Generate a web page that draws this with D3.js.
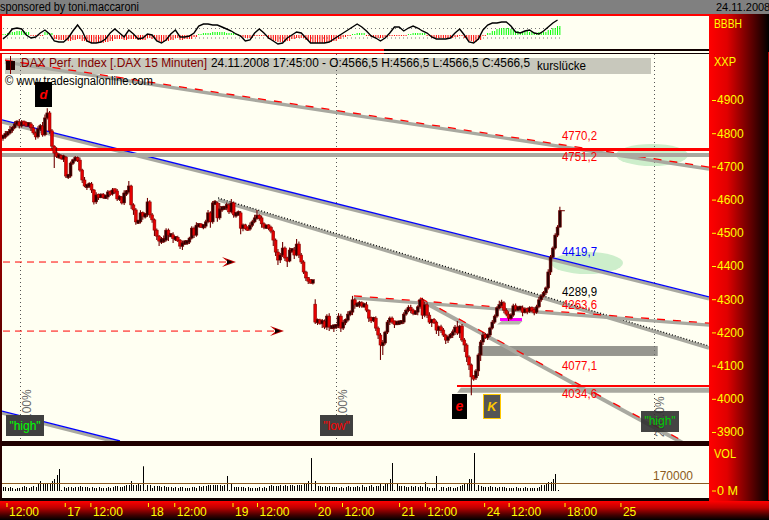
<!DOCTYPE html>
<html><head><meta charset="utf-8">
<script src="https://cdn.jsdelivr.net/npm/d3@7"></script>
<style>html,body{margin:0;padding:0;background:#808080;overflow:hidden}svg{display:block}text{font-family:"Liberation Sans",Arial,sans-serif;font-size:12px}</style>
</head><body><svg id="c" width="769" height="520"></svg>
<script>
const closes=[4789,4798,4801,4810,4816,4828,4834,4822,4834,4828,4825,4828,4816,4801,4789,4813,4822,4795,4846,4861,4807,4761,4740,4731,4731,4725,4728,
4671,4671,4710,4719,4725,4719,4689,4659,4641,4641,
4647,4629,4593,4614,4608,4614,4608,4608,4623,4617,
4629,4626,4602,4608,4590,4620,4623,4641,4584,4569,
4533,4533,4560,4551,4554,4593,4554,4539,4508,4490,
4475,4478,4478,4508,4493,4493,4484,4484,4478,4460,
4469,4472,4472,4484,4514,4493,4523,4523,4520,4520,
4533,4560,4533,4590,4590,4545,4572,4575,4575,4584,
4563,4590,4554,4557,4560,4514,4523,4514,4511,4523,
4533,4545,4551,4545,4527,4517,4520,4517,4505,4478,
4442,4418,4433,4454,4424,4415,4448,4448,4433,4466,
4433,4412,4382,4364,4355,4352,4355,
4231,4237,4228,4234,4216,4249,4216,4216,4219,4219,
4249,4213,4231,4237,4255,4261,4298,4283,4283,4289,
4280,4283,4267,4243,4237,4243,4213,4192,4162,4168,
4201,4231,4243,4231,4228,4228,4231,4231,4255,4267,
4274,4267,4258,4261,4277,4298,4252,4283,4252,4231,
4237,4231,4207,4216,4207,4192,4177,4186,4192,4201,
4216,4198,4219,4177,4162,4126,4102,4066,4063,4084,
4132,4171,4192,4186,4192,4213,4231,4249,4274,4283,
4289,4267,4255,4243,4252,4280,4270,4274,4274,4261,
4270,4264,4274,4267,4261,4277,4298,4310,4319,4334,
4382,4427,4454,4493,4517,4566.5];
const wickUp=[6,9,5,12,6,8,5,9,6,4,7,5,6,9,4,8,6,12,10,14,6,6,3,18,9,5,7,
3,6,5,4,6,5,8,4,9,4,5,6,3,8,4,5,6,7,6,5,6,4,6,5,3,8,6,15,4,5,6,3,8,4,6,12,5,6,4,5,3,9,14,6,5,4,9,5,7,3,8,5,4,4,6,5,9,4,6,5,6,9,5,6,9,4,18,6,5,7,5,12,4,6,7,6,5,4,5,8,6,9,18,5,7,5,4,6,4,4,5,9,6,18,5,4,8,4,9,15,8,6,5,4,3,4,2,
3,5,4,6,5,6,9,4,4,5,9,7,6,5,9,6,12,5,8,6,5,6,9,3,5,4,6,5,6,9,4,6,5,5,4,7,4,4,6,5,8,9,5,6,5,4,6,9,8,9,4,6,5,5,7,6,4,5,6,8,6,18,4,6,6,5,5,4,4,6,5,6,9,6,5,4,6,5,5,12,9,5,6,9,6,6,7,5,4,7,6,5,5,4,9,6,9,5,6,4,8,6,5,6,6,12];
const wickDown=[12,6,8,5,9,4,6,8,5,6,4,5,9,6,9,5,6,6,4,5,9,9,45,6,8,5,12,
6,9,5,6,4,6,5,9,4,12,6,9,8,6,9,4,6,5,8,6,5,9,6,6,5,6,9,5,12,15,9,6,5,12,8,6,9,9,18,12,15,9,9,4,18,6,15,9,6,9,12,5,9,6,4,9,5,6,4,9,6,4,18,6,5,12,6,9,5,7,6,5,9,9,6,18,9,6,5,5,6,4,6,9,12,6,5,9,6,18,12,15,9,6,9,18,4,9,12,4,9,6,6,9,9,5,8,
6,9,5,15,6,9,12,4,15,9,6,12,6,9,5,6,9,12,5,9,6,5,6,12,9,6,9,12,45,30,5,6,9,6,15,6,6,4,6,5,6,9,6,5,9,6,12,6,9,6,15,6,12,18,9,6,12,9,4,9,9,6,15,6,21,15,15,55,9,6,15,18,9,6,9,6,4,5,5,4,6,9,6,9,5,5,6,5,9,12,4,9,5,6,9,5,4,6,5,6,5,9,4,4,6,0];
const volumes=[85,85,64,85,64,43,64,64,85,106,85,64,85,106,85,170,212,170,170,170,170,212,255,340,467,21,
85,64,85,85,64,85,85,106,85,85,85,64,85,64,64,85,64,64,64,85,64,85,106,106,85,85,106,127,127,212,127,127,170,127,525,21,
127,127,64,106,106,106,85,106,85,85,85,64,85,64,85,85,64,64,64,85,85,64,106,85,106,106,127,127,127,127,127,127,106,127,319,21,
149,85,85,85,85,85,64,85,64,64,64,64,85,64,85,64,106,127,106,106,106,127,106,127,106,127,127,106,127,127,127,170,170,212,700,21,
212,106,106,85,106,85,106,85,85,85,64,85,64,85,106,85,85,85,106,85,127,85,85,106,127,85,106,106,170,106,170,170,255,595,21,
170,106,106,106,85,85,106,85,106,85,106,85,191,85,64,64,64,319,21,85,85,64,85,85,64,64,85,106,127,170,170,255,255,807,21,
127,106,85,85,85,106,85,85,64,85,85,85,64,64,64,64,85,64,64,64,85,64,64,64,64,64,85,127,127,170,191,191,255,361,21];
const oscVals=[-4,0,6,7,6,0,-3,-2,2,5,1,-6,-7,-7,-3,4,10,4,-6,-8,-8,-7,-4,2,6,2,-2,5,1,-4,-3,1,0,-6,-8,-5,1,5,-2,-2,-1,2,9,11,11,10,10,8,6,4,1,-1,-6,-5,2,6,2,-3,-6,-9,-8,-3,0,3,2,-3,-8,-8,-8,-8,-7,-4,-1,2,5,8,11,8,4,-1,-3,-6,-3,2,8,8,4,7,9,7,4,2,-2,-4,-4,-4,-3,2,6,0,-7,-8,-4,5,10,12,12,13,13,9,3,2,4,5,2,1,4,8,12,15];
const histVals=[1,2,3,4,4,3,-1,-1,-1,3,2,-4,-5,-5,-6,-5,-4,-6,-7,-8,-8,-8,-7,-6,-4,-4,-5,-4,-4,-5,-5,-3,-4,-6,-7,-6,-5,-3,-5,-4,-4,-2,1,2,2,3,3,3,2,2,1,-2,-3,-3,-1,-1,-1,-4,-6,-7,-7,-6,-4,-3,-3,-5,-8,-8,-8,-8,-7,-6,-4,-2,-1,1,2,2,-1,-2,-3,-3,-2,-1,-1,-1,-1,1,2,2,2,-1,-3,-3,-3,-3,-3,-2,-1,-3,-6,-7,-5,-1,2,4,6,7,7,6,4,3,4,3,2,3,3,5,7,9];
const priceTicks=[4900,4800,4700,4600,4500,4400,4300,4200,4100,4000,3900];
const timeTickBars=[1.5,26.5,37.5,62.2,73.5,98.5,109,134,145.5,170,181,206.5,217,241,265];
const timeTickLabels=["12:00","17","12:00","18","12:00","19","12:00","20","12:00","21","12:00","24","12:00","18:00","25"];
const trendTop=[[0.86,5020],[303,4698]];
const trendBlue=[[-0.43,4840],[303,4307]];
const trendBlueLow=[[-0.43,3963],[50.2,3873]];
const trendDotted=[[92.3,4605],[303,4159]];
const trendFlat=[[150.6,4310],[303,4228]];
const trendSteep=[[179,4304],[295.7,3858]];
const levelLabels=[["4770,2",4770,"#f00",136],["4751,2",4741,"#f00",157],["4419,7",4419.7,"#00f",252],["4289,9",4289.9,"#000",292],["4263,6",4263.6,"#f00",305],["4077,1",4077.1,"#f00",366],["4034,6",4034.6,"#f00",394]];
const dottedBars=[7.5,143,279.4];

const x=d3.scaleLinear([0,240],[3,562.2]);
const y=d3.scaleLinear([4900,3900],[100,432]);
const yVol=d3.scaleLinear([0,170000],[491,483]);
const yOsc=d3.scaleLinear([0,15],[35,20]);
const svg=d3.select("#c");
const defs=svg.append("defs");
function grad(id,x2,y2,stops){const g=defs.append("linearGradient").attr("id",id).attr("x1",0).attr("y1",0).attr("x2",x2).attr("y2",y2);
 stops.forEach(s=>g.append("stop").attr("offset",s[0]).attr("stop-color",s[1]));}
grad("gr",1,0,[[0,"#ff0000"],[.3,"#e00000"],[.65,"#700000"],[1,"#000000"]]);
grad("gb",0,1,[[0,"#ff0000"],[.35,"#c00000"],[.75,"#400000"],[1,"#000000"]]);
grad("gl",0,1,[[0,"#ff0000"],[.3,"#c00000"],[.8,"#300000"],[1,"#200000"]]);
defs.append("clipPath").attr("id","main").append("rect").attr("x",2).attr("y",54).attr("width",707).attr("height",387);
const ivory="#fffff2";
function rect(p,a,b,w,h,f){return p.append("rect").attr("x",a).attr("y",b).attr("width",w).attr("height",h).attr("fill",f).attr("shape-rendering","crispEdges");}
function txt(p,s,a,b,f,opt={}){const t=p.append("text").attr("x",a).attr("y",b).attr("fill",f).text(s);
 if(opt.len)t.attr("textLength",opt.len).attr("lengthAdjust",opt.adj||"spacingAndGlyphs");
 if(opt.anchor)t.attr("text-anchor",opt.anchor);if(opt.style)t.attr("style",opt.style);return t;}

// frame
rect(svg,0,0,769,14,"#808080");
txt(svg,"sponsored by toni.maccaroni",0,11,"#000",{len:139});
txt(svg,"24.11.2008",716,11,"#000",{style:"font-size:11px"});
rect(svg,0,14,709,2,"#f00");
rect(svg,0,16,2,36,"#f00");
rect(svg,2,16,707,33,ivory);
rect(svg,0,49,384,2,"#f00");rect(svg,384,49,325,2,"#100000");
rect(svg,0,51,709,2,ivory);
rect(svg,0,53,384,1,"#e00000");rect(svg,384,53,325,1,"#100000");
rect(svg,0,54,2,447,"url(#gl)");
rect(svg,2,54,707,387,ivory);
rect(svg,2,441,707,5,"#200000");
rect(svg,2,446,707,52,ivory);
rect(svg,2,498,707,3,"#100000");
rect(svg,709,14,60,487,"url(#gr)");
rect(svg,768,52,1,448,"#c00000");
rect(svg,0,501,769,19,"url(#gb)");

// oscillator
const osc=svg.append("g");
[28.5,38].forEach(v=>osc.append("line").attr("x1",3).attr("x2",560).attr("y1",v).attr("y2",v).attr("stroke","#777").attr("stroke-dasharray","1 3"));
closes.forEach((c,i)=>{const v=histVals[i>>1];
 osc.append("line").attr("x1",x(i)).attr("x2",x(i)).attr("y1",yOsc(0)).attr("y2",yOsc(v)).attr("stroke",v>0?"#00ff00":"#ff0000").attr("stroke-width",1);});
osc.append("path").attr("fill","none").attr("stroke","#000").attr("stroke-width",1.4)
 .attr("d",d3.line().x((d,k)=>x(k*2)).y(d=>yOsc(d))(oscVals));
txt(svg,"BBBH",714,28,"#ff0",{len:28});

// main
const m=svg.append("g").attr("clip-path","url(#main)");
const ell=[[652,155],[587,263]];
ell.forEach(e=>m.append("ellipse").attr("cx",e[0]).attr("cy",e[1]).attr("rx",36).attr("ry",11).attr("fill","#cdeecb"));
rect(m,5,58,646,16,"#c8c8bc");
dottedBars.forEach(b=>m.append("line").attr("x1",Math.round(x(b))+.5).attr("x2",Math.round(x(b))+.5).attr("y1",54).attr("y2",441).attr("stroke","#555").attr("stroke-dasharray","1 3"));
const rot=[[23,"100%",420],[339,"100%",420],[656,"200.0%",437]];
rot.forEach(r=>{txt(m,r[1],r[0],r[2],"#666").attr("transform",`rotate(-90 ${r[0]} ${r[2]})`).attr("dy",8);});

const L=d3.line().x(d=>x(d[0])).y(d=>y(d[1]));
function trend(pts,col,dash,w=3.4){
 m.append("path").attr("d",L(pts)).attr("fill","none").attr("stroke","#a9a9a0").attr("stroke-width",w).attr("transform","translate(0,2)");
 const t=m.append("path").attr("d",L(pts)).attr("fill","none").attr("stroke",col).attr("stroke-width",1.3);
 if(dash)t.attr("stroke-dasharray",dash);}
// zones
m.append("rect").attr("x",x(203.9)).attr("width",x(281)-x(203.9)).attr("y",y(4159)).attr("height",y(4129)-y(4159)).attr("fill","#6e6e68").attr("opacity",.72);
m.append("path").attr("d",d3.line()([[x(194.9),y(4018)],[x(303),y(4018)],[x(304),y(4033)],[x(196.5),y(4033)]])+"Z").attr("fill","#a9a9a0");
m.append("path").attr("d",d3.line()([[x(212),y(4224)],[x(221.5),y(4224)],[x(223),y(4234)],[x(214),y(4234)]])+"Z").attr("fill","#b5b5ac");
trend(trendTop,"#ff0000","8 8");
trend(trendBlue,"#0000ff");
trend(trendBlueLow,"#0000ff");
trend(trendDotted,"#000","1 2");
trend(trendFlat,"#ff0000","8 8");
trend(trendSteep,"#ff0000","8 14",4);
// horizontals
rect(m,2,y(4741)+.5,707,3.5,"#a9a9a0");
rect(m,2,y(4751.2)-1.5,707,3,"#ff0000");
rect(m,x(194.9),y(4039)-1,x(303)-x(194.9),2.4,"#ff0000");
rect(m,x(213.3),y(4243),x(222.7)-x(213.3),3,"#ff00ff");
// arrows
[[4412,100],[4204,120.6]].forEach(a=>{const ay=y(a[0]),ax=x(a[1]);
 m.append("line").attr("x1",3).attr("x2",ax-3).attr("y1",ay).attr("y2",ay).attr("stroke","#f00").attr("stroke-dasharray","7 5").attr("stroke-width",1);
 m.append("path").attr("d",`M${ax-14} ${ay-5}L${ax} ${ay}L${ax-14} ${ay+5}L${ax-8} ${ay}Z`).attr("fill","#c00000");
 m.append("path").attr("d",`M${ax-9} ${ay-2.5}L${ax-3} ${ay}L${ax-9} ${ay+2.5}Z`).attr("fill","#100000");
});
// candles
const bars=closes.map((c,i)=>{const o=i?closes[i-1]:c;return{i,c,o,hi:Math.max(o,c)+wickUp[i],lo:Math.min(o,c)-wickDown[i]};});
bars[134].o=4285;bars[134].hi=4300;bars[134].lo=4225;
const cg=m.append("g");
cg.selectAll("line").data(bars).join("line").attr("x1",d=>x(d.i)).attr("x2",d=>x(d.i)).attr("y1",d=>y(d.hi)).attr("y2",d=>y(d.lo)).attr("stroke","#700000").attr("stroke-width",1.1);
const bodyTop=d=>y(Math.max(d.o,d.c)),bodyH=d=>Math.abs(y(d.o)-y(d.c));
cg.selectAll("rect").data(bars).join("rect").attr("x",d=>x(d.i)-1.4).attr("width",2.8)
 .attr("y",d=>bodyTop(d)-Math.max(0,(3.5-bodyH(d))/2)).attr("height",d=>Math.max(3.5,bodyH(d)))
 .attr("fill",d=>d.c>=d.o?"#2a0000":"#e60000").attr("stroke",d=>d.c>=d.o?"#700000":"#8a0000").attr("stroke-width",.6);
m.append("line").attr("x1",x(239)).attr("x2",x(239)+5).attr("y1",y(4566.5)).attr("y2",y(4566.5)).attr("stroke","#700000");
// level labels
levelLabels.forEach(l=>txt(m,l[0],562,l[3]+4,l[2],{len:35}));
// header
rect(m,6,61,9,9,"#200000");m.append("line").attr("x1",10.5).attr("x2",10.5).attr("y1",56).attr("y2",74).attr("stroke","#800000");
txt(m,"DAX Perf. Index [.DAX  15 Minuten]",21,67,"#800000",{len:186});
txt(m,"24.11.2008 17:45:00 - O:4566,5 H:4566,5 L:4566,5 C:4566,5",211,67,"#000",{len:319});
txt(m,"kurslücke",537,70,"#000",{len:49});
txt(m,"© www.tradesignalonline.com",5,85,"#000",{len:148});
// boxes
function box(a,b,w,h,f,s,tc,style,stroke){const r=rect(m,a,b,w,h,f);if(stroke)r.attr("stroke",stroke);
 txt(m,s,a+w/2,b+h/2+4,tc,{anchor:"middle",style});}
box(35,82,17,25,"#000","d","#f00","font-style:italic;font-weight:bold;font-size:13px");
box(452,394,15,25,"#000","e","#f00","font-style:italic;font-weight:bold;font-size:14px");
box(483.5,394.5,17,24,"#555","K","#ffc800","font-style:italic;font-weight:bold;font-size:13px","#ffc800");
box(6,415,38,21,"#404040","\"high\"","#00ff00","font-size:12px");
box(320,415,33,21,"#404040","\"low\"","#ff0000","font-size:12px");
m.append("rect").attr("x",641).attr("y",411).attr("width",38).attr("height",21).attr("fill","#303030").attr("opacity",.9);
txt(m,"\"high\"",660,425,"#00cc00",{anchor:"middle"});

// volume
const vg=svg.append("g");
vg.selectAll("line").data(volumes).join("line").attr("x1",(d,i)=>Math.round(x(i))+.5).attr("x2",(d,i)=>Math.round(x(i))+.5)
 .attr("y1",491).attr("y2",d=>yVol(d*1000)).attr("stroke","#000").attr("stroke-width",1);
svg.append("line").attr("x1",2).attr("x2",709).attr("y1",483.5).attr("y2",483.5).attr("stroke","#8b5a20").attr("stroke-width",1);
txt(svg,"170000",653,480,"#8b5a20",{len:40});

// axes
const ay=svg.append("g").attr("transform","translate(712,0)").call(d3.axisRight(y).tickValues(priceTicks).tickSize(4).tickPadding(1).tickFormat(d3.format("d")));
ay.select(".domain").remove();ay.selectAll("line").attr("stroke","#ff0");ay.selectAll("text").attr("fill","#ff0").style("font-size","12px").style("font-family","Liberation Sans");
txt(svg,"XXP",714,66,"#ff0",{len:22});
txt(svg,"VOL",714,458,"#ff0",{len:22});
svg.append("line").attr("x1",712).attr("x2",716).attr("y1",491).attr("y2",491).attr("stroke","#ff0");
txt(svg,"0 M",717,495,"#ff0",{len:21});
const ax=svg.append("g").attr("transform","translate(0,503)").call(d3.axisBottom(x).tickValues(timeTickBars).tickSize(4).tickFormat((d,i)=>timeTickLabels[i]));
ax.select(".domain").remove();ax.selectAll("line").attr("stroke","#ff0");
ax.selectAll("text").attr("fill","#ff0").attr("text-anchor","start").attr("x",2).attr("y",4).style("font-size","12px").style("font-family","Liberation Sans");
</script></body></html>
